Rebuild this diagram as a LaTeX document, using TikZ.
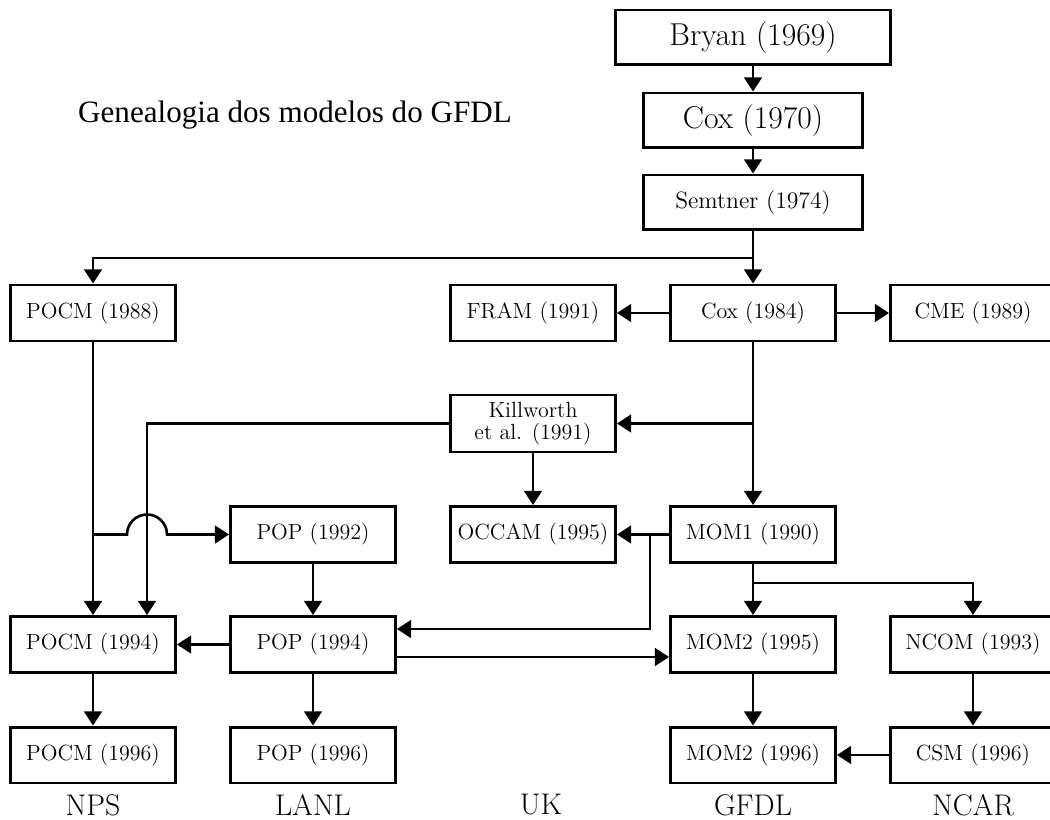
\documentclass[tikz,border=0pt]{standalone}
\usepackage{fontspec}
\newfontfamily\titlefont{Liberation Serif}
\usetikzlibrary{arrows.meta}

\begin{document}
\begin{tikzpicture}[x=0.02cm,y=-0.02cm,line width=1.5pt,>={Triangle[length=8pt,width=10pt]},
  box/.style={draw,line width=1.7pt,inner sep=0pt,minimum width=3.3cm,minimum height=1.12cm,
    font=\fontsize{12.5}{12.5}\selectfont,align=center},
  bigbox/.style={box,minimum width=4.38cm,minimum height=1.1cm,font=\fontsize{18}{18}\selectfont},
  place/.style={font=\fontsize{17}{17}\selectfont}]
\useasboundingbox (0,0) rectangle (1050,820);
\clip (0,0) rectangle (1050,820);
% title
\node[font=\titlefont\fontsize{17.7}{18}\selectfont] (title) at (295,115) {Genealogia dos modelos do GFDL};
% nodes
\node[bigbox,minimum width=5.5cm] (bryan) at (753,37.5) {Bryan (1969)};
\node[bigbox] (cox70) at (753,120.5) {Cox (1970)};
\node[bigbox,font=\fontsize{13.5}{13.5}\selectfont] (semtner) at (753,202.5) {Semtner (1974)};
\node[box] (pocm88) at (93,313) {POCM (1988)};
\node[box] (fram) at (533,313) {FRAM (1991)};
\node[box] (cox84) at (753,313) {Cox (1984)};
\node[box] (cme) at (973,313) {CME (1989)};
\node[box,minimum height=1.14cm] (killworth) at (533,423.5) {Killworth\\et al. (1991)};
\node[box] (pop92) at (313,534.5) {POP (1992)};
\node[box] (occam) at (533,534.5) {OCCAM (1995)};
\node[box] (mom1) at (753,534.5) {MOM1 (1990)};
\node[box] (pocm94) at (93,644.5) {POCM (1994)};
\node[box] (pop94) at (313,644.5) {POP (1994)};
\node[box] (mom2a) at (753,644.5) {MOM2 (1995)};
\node[box] (ncom) at (973,644.5) {NCOM (1993)};
\node[box] (pocm96) at (93,755) {POCM (1996)};
\node[box] (pop96) at (313,755) {POP (1996)};
\node[box] (mom2b) at (753,755) {MOM2 (1996)};
\node[box] (csm) at (973,755) {CSM (1996)};
% groups
\node[place] (nps) at (93,805) {NPS};
\node[place] (lanl) at (313,805) {LANL};
\node[place] (uk) at (541,805) {UK};
\node[place] (gfdl) at (753,805) {GFDL};
\node[place] (ncar) at (973,805) {NCAR};
% helper points
\coordinate (j1) at (753,258);
\coordinate (j2) at (93,534.5);
\coordinate (j3) at (650,534.5);
\coordinate (j4) at (753,583);
\coordinate (k1) at (147,423.5);
% connectors
\draw[->] (bryan) -- (cox70);
\draw[->] (cox70) -- (semtner);
\draw[->] (semtner) -- (cox84);
\draw[->] (j1) -| (pocm88);
\draw[->] (cox84) -- (fram);
\draw[->] (cox84) -- (cme);
\draw[->] (cox84) -- (mom1);
\draw[->] (cox84 |- killworth) -- (killworth);
\draw[->] (killworth) -- (occam);
\draw[->] (killworth.west) -- (k1) -- (k1 |- pocm94.north);
\draw[->] (pocm88) -- (pocm94);
\draw[->] (j2) -- (127,534.5) arc (180:360:20) -- (pop92.west);
\draw[->] (pop92) -- (pop94);
\draw[->] (pop94) -- (pocm94);
\draw[->] (mom1) -- (occam);
\draw[->] (j3) |- ([yshift=0.31cm]pop94.east);
\draw[->] ([yshift=-0.25cm]pop94.east) -- ([yshift=-0.25cm]mom2a.west);
\draw[->] (mom1) -- (mom2a);
\draw[->] (j4) -| (ncom);
\draw[->] (mom2a) -- (mom2b);
\draw[->] (ncom) -- (csm);
\draw[->] (csm) -- (mom2b);
\draw[->] (pocm94) -- (pocm96);
\draw[->] (pop94) -- (pop96);
\end{tikzpicture}
\end{document}
